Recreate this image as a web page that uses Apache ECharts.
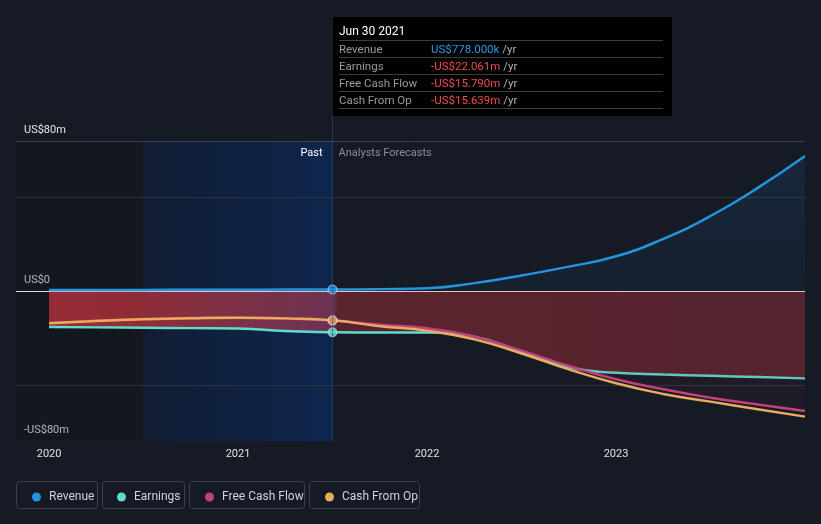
<!DOCTYPE html>
<html>
<head>
<meta charset="utf-8">
<script src="https://cdn.jsdelivr.net/npm/echarts@6/dist/echarts.min.js"></script>
<style>
html,body{margin:0;padding:0;background:#151a25;}
#chart{width:821px;height:524px;}
</style>
</head>
<body>
<div id="chart"></div>
<script>
// ---- data (US$ millions, x = fractional year) ----
const xYears   = [2020.0, 2020.25, 2020.5, 2020.75, 2021.0, 2021.25, 2021.5, 2021.75, 2022.0, 2022.25, 2022.5, 2022.75, 2023.0, 2023.25, 2023.5, 2023.75, 2024.0];
const revenue  = [0.5, 0.55, 0.6, 0.65, 0.7, 0.75, 0.778, 1.0, 1.5, 4.2, 8.3, 13.0, 18.5, 27.8, 40.0, 55.0, 72.0];
const earnings = [-19.2, -19.4, -19.6, -19.8, -20.0, -21.3, -22.061, -22.1, -22.1, -24.4, -32.4, -40.7, -43.6, -44.5, -45.2, -45.9, -46.6];
const fcf      = [-17.0, -15.9, -15.0, -14.4, -14.1, -14.7, -15.79, -18.0, -19.9, -24.4, -31.8, -40.0, -47.1, -52.4, -56.9, -60.5, -64.0];
const cfo      = [-17.2, -16.0, -15.1, -14.5, -14.2, -14.6, -15.639, -18.8, -21.2, -25.8, -33.3, -41.8, -49.2, -54.9, -59.0, -63.1, -67.0];
const seriesNames = ['Revenue', 'Earnings', 'Free Cash Flow', 'Cash From Op'];
const xTickYears = [2020, 2021, 2022, 2023];
const yTickValues = [-80, 0, 80];
const gridValues = [80, 50, -50];
const pastStart = 2020.5, nowX = 2021.5;
const nowIndex = 6;
const tipDate = 'Jun 30 2021';
const tipValues = ['US$778.000k', '-US$22.061m', '-US$15.790m', '-US$15.639m'];

const colors = ['#2394df', '#5fdccb', '#c4407e', '#e8ac5a'];
const FONT = 'Roboto, "Noto Sans", sans-serif';

function pairs(arr){ return xYears.map((x,i)=>[x, arr[i]]); }
function yLabel(v){ return v === 0 ? 'US$0' : (v < 0 ? '-US$' + Math.abs(v) + 'm' : 'US$' + v + 'm'); }

const chart = echarts.init(document.getElementById('chart'), null, {renderer:'canvas'});

function lineSeries(name, data, color, area, z){
  const s = {
    name: name, type: 'line', data: pairs(data), smooth: 0.5,
    showSymbol: false, symbol: 'none',
    lineStyle: {color: color, width: 2.5},
    itemStyle: {color: color},
    z: z, silent: true
  };
  if (area) s.areaStyle = area;
  return s;
}

const tipHtml = (function(){
  let h = '<div style="font-family:Roboto,sans-serif;font-size:11.5px;width:324px;">';
  h += '<div style="color:#fff;font-size:12px;height:17px;line-height:17px;">' + tipDate + '</div>';
  for (let i = 0; i < seriesNames.length; i++) {
    const vc = i === 0 ? '#2d9be6' : '#f24c4c';
    const last = i === seriesNames.length - 1;
    h += '<div style="border-top:1px solid #3d3d3d;' + (last ? 'border-bottom:1px solid #3d3d3d;' : '') +
         'height:16px;line-height:16px;display:flex;">' +
         '<span style="color:#9a9a9a;width:92px;display:inline-block;">' + seriesNames[i] + '</span>' +
         '<span style="color:' + vc + ';">' + tipValues[i] + '</span>' +
         '<span style="color:#b0b0b0;">&nbsp;/yr</span></div>';
  }
  h += '</div>';
  return h;
})();

const option = {
  backgroundColor: '#151a25',
  animation: false,
  textStyle: {fontFamily: FONT},
  grid: {left: 16, right: 16, top: 141, bottom: 83, containLabel: false},
  xAxis: {
    type: 'value', min: 2019.825, max: 2024.0,
    axisLine: {show: true, lineStyle: {color: '#3a3f49', width: 1}},
    axisTick: {show: true, customValues: xTickYears, length: 4, lineStyle: {color: '#3a3f49'}},
    axisLabel: {show: true, customValues: xTickYears, color: '#e0e0e0', fontSize: 11, margin: 8, fontFamily: FONT,
      formatter: v => String(Math.round(v))},
    splitLine: {show: false}
  },
  yAxis: {
    type: 'value', min: -80, max: 80,
    axisLine: {show: false}, axisTick: {show: false},
    splitLine: {show: false},
    axisLabel: {show: true, customValues: yTickValues, inside: true, color: '#e6e6e6', fontSize: 11,
      verticalAlign: 'bottom', margin: 8, padding: [0,0,5,0], fontFamily: FONT, formatter: yLabel}
  },
  tooltip: {
    show: true, trigger: 'item', alwaysShowContent: true, showDelay: 0, hideDelay: 0,
    transitionDuration: 0, enterable: false,
    position: [333, 17],
    backgroundColor: 'rgba(0,0,0,0.96)', borderWidth: 0, borderRadius: 0,
    padding: [6, 9, 7, 6], extraCssText: 'box-shadow:none;',
    formatter: () => tipHtml
  },
  legend: [0,1,2,3].map(i => ({
    data: [seriesNames[i]],
    left: [27, 112, 200, 320][i], top: 486,
    icon: 'circle', itemWidth: 9, itemHeight: 9, itemGap: 0,
    textStyle: {color: '#cfd2d8', fontSize: 12, fontFamily: FONT, padding: [0,0,0,3]},
    selectedMode: false
  })),
  series: [
    // background bands and gridlines
    {
      type: 'line', data: [], silent: true, z: 1,
      markArea: {
        silent: true,
        data: [
          [{xAxis: 2019.825, itemStyle: {color: 'rgba(12,14,20,0.25)'}}, {xAxis: pastStart}],
          [{xAxis: pastStart, itemStyle: {
            color: new echarts.graphic.LinearGradient(0,0,1,0,[
              {offset:0, color:'rgba(10,40,95,0.18)'}, {offset:1, color:'rgba(10,48,110,0.55)'}]),
            borderColor: 'rgba(30,50,80,0.5)', borderWidth: 0.5}}, {xAxis: nowX}]
        ]
      },
      markLine: {
        silent: true, symbol: 'none', animation: false,
        label: {show: false},
        lineStyle: {color: '#2c313b', width: 1, type: 'solid'},
        data: gridValues.map(v => ({yAxis: v, lineStyle: {color: v === 80 ? '#3a3f49' : '#2c313b'}}))
          .concat([{yAxis: 0, lineStyle: {color: 'rgba(255,235,235,0.9)', width: 1}}])
      }
    },
    lineSeries(seriesNames[0], revenue, colors[0], {
      origin: 0,
      color: new echarts.graphic.LinearGradient(0,0,0,1,[
        {offset:0, color:'rgba(35,110,180,0.22)'}, {offset:1, color:'rgba(35,110,180,0.10)'}])
    }, 5),
    lineSeries(seriesNames[1], earnings, colors[1], {
      origin: 0, opacity: 1,
      color: new echarts.graphic.LinearGradient(49, 0, 805, 0, [
        {offset:0, color:'rgba(165,46,54,0.92)'},
        {offset:0.124, color:'rgba(158,46,56,0.9)'},
        {offset:0.377, color:'rgba(130,56,88,0.8)'},
        {offset:0.381, color:'rgba(112,40,48,0.72)'},
        {offset:1, color:'rgba(108,38,48,0.68)'}], true)
    }, 4),
    lineSeries(seriesNames[2], fcf, colors[2], {
      origin: 0, color: 'rgba(120,40,60,0.16)'
    }, 6),
    lineSeries(seriesNames[3], cfo, colors[3], null, 7),
    // current-point markers
    {
      type: 'scatter', z: 9, symbolSize: 9,
      data: [
        {value: [xYears[nowIndex], revenue[nowIndex]], itemStyle: {color: colors[0]}},
        {value: [xYears[nowIndex], fcf[nowIndex]], itemStyle: {color: colors[2]}},
        {value: [xYears[nowIndex], cfo[nowIndex]], itemStyle: {color: '#d9a05c'}},
        {value: [xYears[nowIndex], earnings[nowIndex]], itemStyle: {color: colors[1]}}
      ],
      itemStyle: {borderColor: 'rgba(230,230,240,0.9)', borderWidth: 1},
      tooltip: {show: true}
    },
    // light veil over past lines
    {
      type: 'line', data: [], silent: true, z: 8,
      markArea: {
        silent: true,
        data: [
          [{xAxis: pastStart, itemStyle: {color: 'rgba(12,40,90,0.12)'}}, {xAxis: nowX}]
        ]
      }
    }
  ]
};

chart.setOption(option);

// graphic overlays computed through the chart scales
const nowTop = chart.convertToPixel({xAxisIndex:0, yAxisIndex:0}, [nowX, 80]);
const nowBot = chart.convertToPixel({xAxisIndex:0, yAxisIndex:0}, [nowX, -80]);
const boxes = [[16,97],[102,184],[189,304],[309,419]];
chart.setOption({
  graphic: [
    {type:'line', silent:true, z: 20, shape:{x1: nowTop[0], y1: 115, x2: nowTop[0], y2: nowBot[1]},
      style:{stroke:'rgba(40,80,140,0.6)', lineWidth:1}},
    {type:'text', silent:true, z: 20, x: nowTop[0] - 10, y: nowTop[1] + 12,
      style:{text:'Past', fill:'#ffffff', font:'11px ' + FONT, align:'right', verticalAlign:'middle'}},
    {type:'text', silent:true, z: 20, x: nowTop[0] + 6, y: nowTop[1] + 12,
      style:{text:'Analysts Forecasts', fill:'#8a8f99', font:'11px ' + FONT, align:'left', verticalAlign:'middle'}}
  ].concat(boxes.map(b => ({
    type:'rect', silent:true, z: 0,
    shape:{x: b[0] + 0.5, y: 481.5, width: b[1] - b[0], height: 27, r: 3},
    style:{fill:'transparent', stroke:'#3b404b', lineWidth:1}
  })))
});

chart.dispatchAction({type:'showTip', seriesIndex: 5, dataIndex: 0});
</script>
</body>
</html>
